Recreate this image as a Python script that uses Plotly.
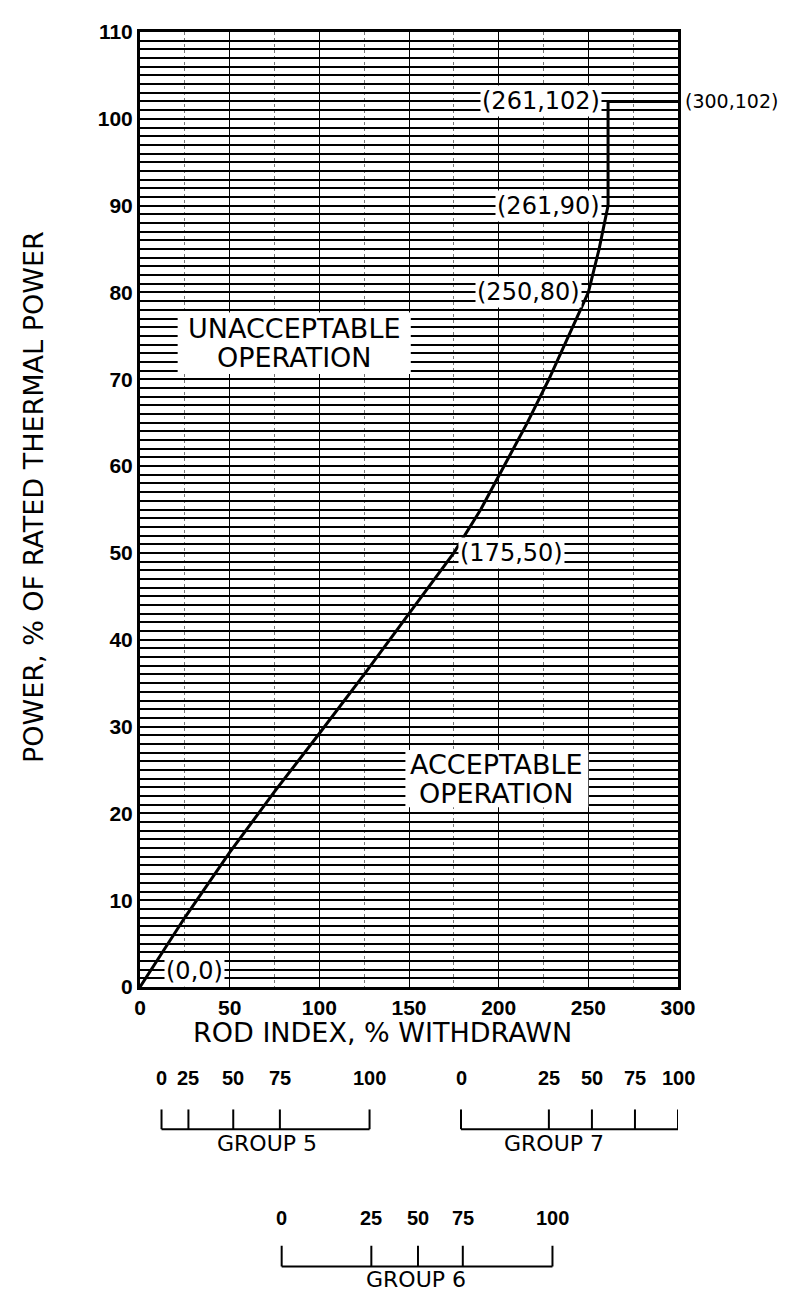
import plotly.graph_objects as go

# ---- data ----
rod_index = [0, 25, 50, 75, 100, 125, 150, 175, 190, 203, 216, 228, 240, 250, 256, 261, 261, 300]
power = [0, 8, 15.5, 22.5, 29.2, 36, 43, 50, 55, 60, 65, 70, 75.5, 80, 85, 90, 102, 102]

key_x = [0, 175, 250, 261, 261, 300]
key_y = [0, 50, 80, 90, 102, 102]

x_ticks = [0, 50, 100, 150, 200, 250, 300]
y_ticks = [0, 10, 20, 30, 40, 50, 60, 70, 80, 90, 100, 110]

group_tick_labels = ["0", "25", "50", "75", "100"]
group5_rod = [12, 27, 52, 78, 128]
group6_rod = [79, 129, 155, 180, 230]
group7_rod = [179, 228, 252, 276, 300]
group_names = ["GROUP 5", "GROUP 6", "GROUP 7"]

# ---- layout geometry (page pixels) ----
PAGE_W, PAGE_H = 788, 1312
OFF = 8  # default body margin of the html page
L, R, T, B = 140, 678, 20, 987


def py(px):
    return (B - px) / (B - T)


def px_x(px):
    return (px - L) / (R - L)


NUM_FONT = dict(family="Liberation Sans", size=21, color="black", weight="bold")
TXT_FONT = dict(family="DejaVu Sans", size=24, color="black")

fig = go.Figure()
fig.add_trace(go.Scatter(x=rod_index, y=power, mode="lines",
                         line=dict(color="black", width=3), hoverinfo="skip",
                         showlegend=False))

shapes = []
annotations = []

# white label boxes for region names
shapes.append(dict(type="rect", xref="x", yref="y", x0=21, x1=151, y0=70.6, y1=77.7,
                   fillcolor="white", line=dict(width=0), layer="above"))
shapes.append(dict(type="rect", xref="x", yref="y", x0=148, x1=250, y0=20.7, y1=27.3,
                   fillcolor="white", line=dict(width=0), layer="above"))
REG_FONT = dict(TXT_FONT, size=27)
annotations += [
    dict(x=86, y=75.9, xref="x", yref="y", text="UNACCEPTABLE", showarrow=False, xanchor="center", font=REG_FONT),
    dict(x=86, y=72.5, xref="x", yref="y", text="OPERATION", showarrow=False, xanchor="center", font=REG_FONT),
    dict(x=199, y=25.6, xref="x", yref="y", text="ACCEPTABLE", showarrow=False, xanchor="center", font=REG_FONT),
    dict(x=199, y=22.3, xref="x", yref="y", text="OPERATION", showarrow=False, xanchor="center", font=REG_FONT),
]

# coordinate labels of key points (last one sits outside the frame)
label_cfg = [
    dict(xanchor="left", yanchor="bottom", xshift=24),
    dict(xanchor="left", yanchor="middle", xshift=4),
    dict(xanchor="right", yanchor="middle", xshift=-6),
    dict(xanchor="right", yanchor="middle", xshift=-6),
    dict(xanchor="right", yanchor="middle", xshift=-6),
]
for kx, ky, cfg in zip(key_x[:-1], key_y[:-1], label_cfg):
    annotations.append(dict(x=kx, y=ky, xref="x", yref="y", text=f"({kx},{ky})",
                            showarrow=False, xanchor=cfg["xanchor"], yanchor=cfg["yanchor"],
                            xshift=cfg["xshift"], bgcolor="white",
                            borderpad=1, font=TXT_FONT))
annotations.append(dict(x=px_x(779), y=key_y[-1], xref="paper", yref="y",
                        text=f"({key_x[-1]},{key_y[-1]})", showarrow=False,
                        xanchor="right", yanchor="middle", borderpad=0,
                        font=dict(TXT_FONT, size=19)))

# axis titles
TITLE_FONT = dict(TXT_FONT, size=27)
annotations.append(dict(x=px_x(33), y=0.513, xref="paper", yref="paper", xanchor="center",
                        yanchor="middle", text="POWER, % OF RATED THERMAL POWER", textangle=-90,
                        showarrow=False, font=TITLE_FONT))
annotations.append(dict(x=135, y=py(1051), xref="x", yref="paper", xanchor="center",
                        text="ROD INDEX, % WITHDRAWN", showarrow=False, font=TITLE_FONT))

# group scales
group_rows = [
    (group5_rod, 1092, 1111, 1131, 1160, 71),
    (group6_rod, 1234, 1249, 1270, 1298, 154),
    (group7_rod, 1092, 1111, 1131, 1160, 231),
]
for name, (vals, num_y, tick_top, base_y, name_y, name_x) in zip(group_names, group_rows):
    shapes.append(dict(type="line", xref="x", yref="paper", x0=vals[0], x1=vals[-1],
                       y0=py(base_y), y1=py(base_y), line=dict(color="black", width=2)))
    for v, lab in zip(vals, group_tick_labels):
        shapes.append(dict(type="line", xref="x", yref="paper", x0=v, x1=v,
                           y0=py(base_y), y1=py(tick_top), line=dict(color="black", width=2)))
        annotations.append(dict(x=v, y=py(num_y), xref="x", yref="paper", text=lab,
                                xanchor="center", showarrow=False, font=dict(NUM_FONT, size=20)))
    annotations.append(dict(x=name_x, y=py(name_y), xref="x", yref="paper", text=name,
                            xanchor="center", showarrow=False, font=dict(TXT_FONT, size=22)))

fig.update_layout(
    width=PAGE_W - OFF, height=PAGE_H - OFF,
    margin=dict(l=L - OFF, r=PAGE_W - R, t=T - OFF, b=PAGE_H - B),
    paper_bgcolor="white", plot_bgcolor="white",
    showlegend=False,
    shapes=shapes, annotations=annotations,
    xaxis=dict(range=[0, 300], tickvals=x_ticks, ticktext=[str(v) for v in x_ticks],
               showgrid=True, gridcolor="black", gridwidth=1.3,
               minor=dict(dtick=25, showgrid=True, gridcolor="#777", gridwidth=1, griddash="dot"),
               showline=True, linecolor="black", linewidth=3, mirror=True,
               ticks="", tickfont=NUM_FONT, zeroline=False, fixedrange=True),
    yaxis=dict(range=[0, 110], tickvals=y_ticks, ticktext=[str(v) for v in y_ticks],
               showgrid=True, gridcolor="black", gridwidth=2.4,
               minor=dict(dtick=1, showgrid=True, gridcolor="black", gridwidth=2.4),
               showline=True, linecolor="black", linewidth=3, mirror=True,
               ticks="", tickfont=NUM_FONT, zeroline=False, fixedrange=True),
)

fig.write_html("out.html")
